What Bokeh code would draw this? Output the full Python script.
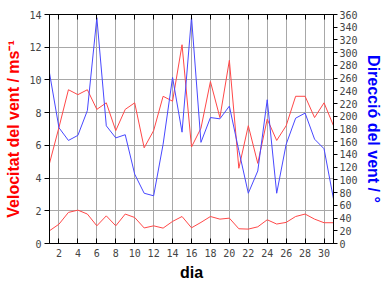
from bokeh.plotting import figure
from bokeh.models import Range1d, LinearAxis, FixedTicker, CustomLabelingPolicy
from bokeh.embed import file_html
from bokeh.resources import INLINE

dies = list(range(1, 32))
vent_max = [4.9, 7.1, 9.4, 9.1, 9.4, 8.2, 8.6, 6.9, 8.2, 8.6, 5.85, 6.9, 9.0, 8.7, 12.15,
            5.9, 7.05, 9.9, 7.7, 11.2, 4.6, 7.2, 4.9, 7.6, 6.3, 7.2, 9.0, 9.0, 7.7, 8.6, 7.2]
vent_mitja = [0.78, 1.18, 1.9, 2.04, 1.8, 1.08, 1.69, 1.08, 1.8, 1.59, 0.95, 1.08, 0.94, 1.35, 1.65,
              0.96, 1.29, 1.65, 1.49, 1.55, 0.9, 0.88, 1.02, 1.45, 1.19, 1.29, 1.65, 1.8, 1.49, 1.27, 1.27]
direccio = [268, 182, 162, 170, 209, 355, 185, 166, 171, 109, 79, 75, 156, 261, 175,
            356, 159, 198, 196, 216, 146, 79, 114, 226, 79, 156, 197, 205, 164, 149, 70]

x_ticks = list(range(2, 31, 2))
v_ticks = list(range(0, 15, 2))
d_ticks = list(range(0, 361, 20))

TICK_FONT = "DejaVu Sans Mono"
LABEL_FONT = "Liberation Sans"

p = figure(width=384, height=288, output_backend="svg", toolbar_location=None,
           x_range=Range1d(1, 31), y_range=Range1d(0, 14),
           min_border_left=49, min_border_right=48, min_border_top=14, min_border_bottom=45,
           background_fill_color="white", border_fill_color="white")
p.extra_y_ranges = {"dir": Range1d(0, 360)}
p.outline_line_color = "black"
p.outline_line_width = 1

# grid
p.xgrid.ticker = FixedTicker(ticks=x_ticks)
p.ygrid.ticker = FixedTicker(ticks=v_ticks)
for g in (p.xgrid, p.ygrid):
    g.grid_line_color = "#a8a8a8"
    g.grid_line_width = 1

# bottom axis
xa = p.xaxis[0]
xa.ticker = FixedTicker(ticks=x_ticks)
xa.axis_label = "dia"
xa.axis_label_text_font = LABEL_FONT
xa.axis_label_text_font_style = "bold"
xa.axis_label_text_font_size = "16px"
xa.axis_label_text_color = "black"
xa.axis_label_standoff = 4
xa.major_label_text_font = TICK_FONT
xa.major_label_text_font_size = "10px"
xa.major_label_standoff = 5
xa.major_tick_in = 5
xa.major_tick_out = 0
xa.minor_tick_line_color = None
xa.axis_line_color = "black"

# top axis (ticks only, labels hidden by policy)
hide_all = CustomLabelingPolicy(code="""
for (const i of indices) { indices.unset(i) }
return indices
""")
ta = LinearAxis(ticker=FixedTicker(ticks=x_ticks), major_label_text_font_size="10px",
                major_label_policy=hide_all,
                major_label_standoff=0, major_tick_in=5, major_tick_out=0,
                minor_tick_line_color=None, axis_line_color="black")
p.add_layout(ta, "above")

# left axis
ya = p.yaxis[0]
ya.ticker = FixedTicker(ticks=v_ticks)
ya.axis_label = "Velocitat del vent / ms\u207b\u00b9"
ya.axis_label_text_font = LABEL_FONT
ya.axis_label_text_font_style = "bold"
ya.axis_label_text_font_size = "16px"
ya.axis_label_text_color = "#ff0000"
ya.axis_label_standoff = 4
ya.major_label_text_font = TICK_FONT
ya.major_label_text_font_size = "10px"
ya.major_label_standoff = 3
ya.major_tick_in = 0
ya.major_tick_out = 5
ya.minor_tick_line_color = None
ya.axis_line_color = "black"

# right axis
ra = LinearAxis(y_range_name="dir", ticker=FixedTicker(ticks=d_ticks))
ra.axis_label = "Direcci\u00f3 del vent / \u00b0"
ra.axis_label_text_font = LABEL_FONT
ra.axis_label_text_font_style = "bold"
ra.axis_label_text_font_size = "16px"
ra.axis_label_text_color = "#0000ff"
ra.axis_label_standoff = 4
ra.major_label_text_font = TICK_FONT
ra.major_label_text_font_size = "10px"
ra.major_label_standoff = 2
ra.major_tick_in = 0
ra.major_tick_out = 4
ra.minor_tick_line_color = None
ra.axis_line_color = "black"
p.add_layout(ra, "right")

p.line(dies, vent_max, line_color="#ff4848", line_width=1)
p.line(dies, vent_mitja, line_color="#ff4848", line_width=1)
p.line(dies, direccio, line_color="#4848ff", line_width=1, y_range_name="dir")

open("out.html", "w").write(file_html(p, INLINE))
